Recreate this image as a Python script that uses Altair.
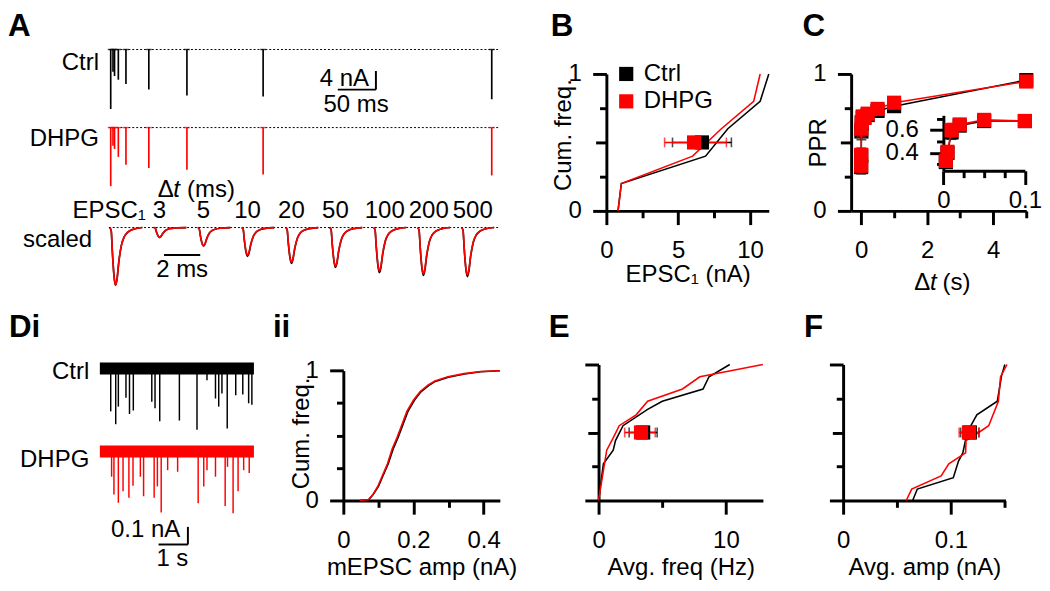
import altair as alt
import pandas as pd

FONT = "Liberation Sans"
FS = 24.5
CONDS = ["Ctrl", "DHPG"]
COLORS = ["#000000", "#ff0000"]
CSCALE = alt.Scale(domain=CONDS, range=COLORS)

# ---------------- A: paired-pulse EPSC traces ----------------
pulse_ms = [0, 3, 5, 10, 20, 50, 100, 200, 500]
epsc_ctrl_nA = [12.8, 4.8, 5.7, 6.5, 7.4, 8.6, 9.9, 10.1, 10.7]
epsc_dhpg_nA = [12.6, 3.9, 4.6, 6.3, 8.0, 8.7, 9.1, 10.1, 10.3]
dhpg_trace_offset_nA = -16.8

# scaled EPSC waveforms (EPSC1, then EPSC2 at each interval)
scaled_labels = ["EPSC\u2081", "3", "5", "10", "20", "50", "100", "200", "500"]
scaled_amp_ctrl = [1.00, 0.17, 0.32, 0.50, 0.62, 0.69, 0.78, 0.83, 0.85]
scaled_amp_dhpg = [1.00, 0.17, 0.32, 0.48, 0.60, 0.67, 0.75, 0.80, 0.82]
epsc_shape_ms = [0.0, 0.08, 0.15, 0.24, 0.32, 0.40, 0.50, 0.65, 0.80, 1.00, 1.30, 1.80]
epsc_shape = [0.0, 0.05, 0.45, 0.85, 1.00, 0.90, 0.60, 0.30, 0.16, 0.08, 0.03, 0.0]
segment_step_ms = 2.43

# ---------------- B: EPSC1 cumulative ----------------
b_ctrl_x = [0.81, 1.04, 6.9, 8.45, 10.7, 11.3]
b_ctrl_y = [0.0, 0.2, 0.4, 0.6, 0.8, 1.0]
b_dhpg_x = [0.81, 1.04, 6.0, 8.0, 10.25, 10.7]
b_dhpg_y = [0.0, 0.2, 0.4, 0.6, 0.8, 1.0]
b_mean = [6.65, 6.1]
b_lo = [4.6, 4.05]
b_hi = [8.7, 8.35]

# ---------------- C: PPR ----------------
c_dt_s = [0.003, 0.005, 0.01, 0.02, 0.05, 0.1, 0.2, 0.5, 1.0, 5.0]
c_ctrl = [0.32, 0.40, 0.58, 0.64, 0.68, 0.68, 0.70, 0.73, 0.765, 0.955]
c_dhpg = [0.33, 0.41, 0.60, 0.65, 0.69, 0.68, 0.71, 0.745, 0.79, 0.945]
c_ctrl_sem = [0.05, 0.05, 0.06, 0.03, 0.02, 0.02, 0.02, 0.02, 0.02, 0.015]
c_dhpg_sem = [0.05, 0.05, 0.06, 0.03, 0.02, 0.02, 0.02, 0.02, 0.02, 0.015]

# ---------------- Di: mEPSC traces ----------------
mini_ctrl_s = [0.40, 0.57, 0.66, 0.92, 1.04, 1.17, 1.80, 1.91, 2.07, 2.74, 3.34,
               3.68, 3.97, 4.08, 4.19, 4.37, 4.66, 4.90, 5.10, 5.21]
mini_ctrl_nA = [0.244, 0.317, 0.217, 0.167, 0.259, 0.239, 0.189, 0.226, 0.30, 0.296,
                0.348, 0.067, 0.171, 0.217, 0.143, 0.341, 0.152, 0.148, 0.198, 0.207]
mini_dhpg_s = [0.43, 0.51, 0.66, 0.82, 1.02, 1.16, 1.41, 1.52, 1.88, 1.99, 2.12, 2.34,
               2.68, 3.38, 3.57, 3.68, 3.97, 4.30, 4.38, 4.57, 4.74, 4.93, 5.12]
mini_dhpg_nA = [0.143, 0.244, 0.291, 0.226, 0.263, 0.194, 0.143, 0.254, 0.263, 0.198,
                0.346, 0.106, 0.115, 0.294, 0.198, 0.106, 0.143, 0.309, 0.087, 0.35,
                0.226, 0.106, 0.122]
dhpg_mini_offset_nA = -0.472
noise_half_nA = 0.034
trace_span_s = [0.03, 5.28]

# ---------------- ii: mEPSC amplitude cumulative ----------------
ii_ctrl_x = [0.047, 0.073, 0.085, 0.100, 0.114, 0.128, 0.142, 0.156, 0.170, 0.184, 0.203,
             0.221, 0.244, 0.262, 0.299, 0.345, 0.391, 0.446]
ii_ctrl_y = [0.0, 0.007, 0.045, 0.108, 0.196, 0.284, 0.397, 0.485, 0.585, 0.686, 0.774,
             0.837, 0.887, 0.917, 0.950, 0.975, 0.992, 1.0]
ii_dhpg_x = [0.047, 0.072, 0.084, 0.098, 0.112, 0.126, 0.139, 0.153, 0.167, 0.181, 0.200,
             0.219, 0.242, 0.261, 0.298, 0.344, 0.391, 0.446]
ii_dhpg_y = [0.0, 0.007, 0.045, 0.108, 0.196, 0.284, 0.397, 0.485, 0.585, 0.686, 0.774,
             0.840, 0.890, 0.920, 0.953, 0.977, 0.993, 1.0]

# ---------------- E: average frequency cumulative ----------------
e_ctrl_x = [0.0, 0.38, 1.15, 1.33, 1.92, 3.85, 5.0, 8.2, 8.67, 10.3]
e_ctrl_y = [0.0, 0.27, 0.37, 0.44, 0.55, 0.67, 0.73, 0.82, 0.91, 1.0]
e_dhpg_x = [0.0, 0.64, 1.15, 1.62, 2.95, 3.85, 6.59, 7.95, 12.9]
e_dhpg_y = [0.0, 0.37, 0.46, 0.55, 0.63, 0.73, 0.82, 0.91, 1.0]
e_mean = [3.5, 3.33]
e_lo = [2.4, 2.05]
e_hi = [4.6, 4.45]

# ---------------- F: average amplitude cumulative ----------------
f_ctrl_x = [0.0645, 0.0688, 0.1022, 0.107, 0.111, 0.115, 0.124, 0.143, 0.147, 0.150]
f_ctrl_y = [0.0, 0.084, 0.168, 0.29, 0.35, 0.5, 0.63, 0.73, 0.92, 1.0]
f_dhpg_x = [0.0585, 0.0636, 0.0909, 0.098, 0.1136, 0.114, 0.1257, 0.135, 0.144, 0.146, 0.152]
f_dhpg_y = [0.0, 0.084, 0.18, 0.27, 0.35, 0.44, 0.5, 0.55, 0.73, 0.91, 1.0]
f_mean = [0.1175, 0.1167]
f_lo = [0.109, 0.1076]
f_hi = [0.126, 0.1258]

# legend key placement for B (data units of panel B)
b_key_x = [1.38, 1.38]
b_key_y = [1.0, 0.8]
b_key_text_x = 2.6


# ================= helpers =================
def two(xc, yc, xd, yd):
    return pd.DataFrame({
        "x": list(xc) + list(xd),
        "y": list(yc) + list(yd),
        "cond": ["Ctrl"] * len(xc) + ["DHPG"] * len(xd),
    })


XPAD, YPAD = 15, 11.5


def ax(values, major, mid=(), labeled=None, **kw):
    if labeled is None:
        labeled = major
    maj = "[" + ",".join(str(v) for v in major) + "]"
    lab = "[" + ",".join(str(v) for v in labeled) + "]"
    conds = [{"test": f"indexof({maj}, datum.value) >= 0", "value": 14}]
    if mid:
        md = "[" + ",".join(str(v) for v in mid) + "]"
        conds.append({"test": f"indexof({md}, datum.value) >= 0", "value": 11})
    return alt.Axis(values=list(values),
                    labelExpr=f"indexof({lab}, datum.value) >= 0 ? format(datum.value, '~g') : ''",
                    tickSize={"condition": conds, "value": 7}, **kw)


def panel_title(text, dx, offset):
    return alt.TitleParams(text=text, anchor="start", frame="group", dx=dx, offset=offset,
                           fontSize=32, fontWeight="bold", font=FONT, color="black")


def color(legend=None):
    return alt.Color("cond:N", scale=CSCALE, legend=legend)


def lin(domain, rng=None):
    if rng is None:
        return alt.Scale(domain=domain, nice=False, zero=False)
    return alt.Scale(domain=domain, range=rng, nice=False, zero=False)


def txt(df, xs, ys, align="center", xaxis=None, yaxis=None, **kw):
    return alt.Chart(df).mark_text(align=align, baseline="middle", font=FONT, fontSize=FS,
                                   color="black", **kw).encode(
        x=alt.X("t:Q", scale=xs, axis=xaxis), y=alt.Y("y:Q", scale=ys, axis=yaxis), text="txt:N")


X = lambda f, s: alt.X(f, scale=s, axis=None)
Y = lambda f, s: alt.Y(f, scale=s, axis=None)

# ================= Panel A =================
A_W, A_H = 399, 221
xA = lin([0, 500], [2, 2 + 500 * 0.779])
yA = lin([-10, 0], [22.5, -25])
nP = len(pulse_ms)
a_spk = pd.DataFrame({
    "cond": ["Ctrl"] * nP + ["DHPG"] * nP,
    "t": pulse_ms + pulse_ms,
    "base": [0.0] * nP + [dhpg_trace_offset_nA] * nP,
    "tip": [-a for a in epsc_ctrl_nA] + [dhpg_trace_offset_nA - a for a in epsc_dhpg_nA],
})
a_base = pd.DataFrame({"base": [0.0, dhpg_trace_offset_nA], "t0": [-2.5, -2.5], "t1": [509, 509]})
a_bar = pd.DataFrame({"x": [348, 298], "x2": [348, 348], "y": [-4.63, -8.63], "y2": [-8.63, -8.63]})
a_lab_r = pd.DataFrame({"t": [-15.4, -15.4, 339], "y": [-2.95, dhpg_trace_offset_nA - 2.55, -6.3],
                        "txt": ["Ctrl", "DHPG", "4 nA"]})
a_lab_c = pd.DataFrame({"t": [322], "y": [-12.0], "txt": ["50 ms"]})

top = alt.layer(
    alt.Chart(a_base).mark_rule(color="black", strokeWidth=1, strokeDash=[2, 2]).encode(
        x=X("t0:Q", xA), x2="t1:Q", y=Y("base:Q", yA)),
    alt.Chart(a_spk).mark_rule(strokeWidth=1.7).encode(
        x=X("t:Q", xA), y=Y("base:Q", yA), y2="tip:Q", color=color()),
    alt.Chart(a_spk).mark_tick(orient="horizontal", size=6, thickness=1.5).encode(
        x=X("t:Q", xA), y=Y("base:Q", yA), color=color()),
    alt.Chart(a_bar).mark_rule(color="black", strokeWidth=2).encode(
        x=X("x:Q", xA), x2="x2:Q", y=Y("y:Q", yA), y2="y2:Q"),
    txt(a_lab_r, xA, yA, "right"),
    txt(a_lab_c, xA, yA, "center"),
)

xS = lin([0, 10], [1, 186])
yS = lin([-1, 0], [216, 157])
rows = []
for cond, amps in (("Ctrl", scaled_amp_ctrl), ("DHPG", scaled_amp_dhpg)):
    for k, a in enumerate(amps):
        for t, v in zip(epsc_shape_ms, epsc_shape):
            rows.append({"cond": cond, "seg": k, "t": k * segment_step_ms + t, "i": -a * v})
s_df = pd.DataFrame(rows)
s_lab = pd.DataFrame({"t": [k * segment_step_ms + 0.32 for k in range(1, len(scaled_labels))],
                      "y": [0.29] * (len(scaled_labels) - 1), "txt": scaled_labels[1:]})
s_lab["w"] = s_lab.txt.str.len()
s_lab0 = pd.DataFrame({"t": [2.0], "y": [0.29], "txt": [scaled_labels[0]]})
s_dt = pd.DataFrame({"t": [2.65], "y": [0.64], "txt": [""]})
s_lab_sc = pd.DataFrame({"t": [-0.97], "y": [-0.22], "txt": ["scaled"]})
s_bar = pd.DataFrame({"x": [3.0], "x2": [5.0], "y": [-0.475]})
s_bar_t = pd.DataFrame({"t": [4.0], "y": [-0.73], "txt": ["2 ms"]})
s_base = pd.DataFrame({"t0": [-0.05], "t1": [21.5], "y": [0.0]})

scaled = alt.layer(
    alt.Chart(s_base).mark_rule(color="black", strokeWidth=1, strokeDash=[2, 2]).encode(
        x=X("t0:Q", xS), x2="t1:Q", y=Y("y:Q", yS)),
    alt.Chart(s_df).transform_filter("datum.cond == 'Ctrl'").mark_line(strokeWidth=1.7, interpolate="monotone").encode(
        x=X("t:Q", xS), y=Y("i:Q", yS), detail="seg:N", color=color()),
    alt.Chart(s_df).transform_filter("datum.cond == 'DHPG'").mark_line(strokeWidth=1.7, interpolate="monotone").encode(
        x=X("t:Q", xS), y=Y("i:Q", yS), detail="seg:N", color=color()),
    txt(s_lab[s_lab.w < 3], xS, yS, "center"),
    txt(s_lab[s_lab.w >= 3], xS, yS, "center", dx=5.5),
    txt(s_lab0, xS, yS, "right"),
    txt(s_dt.assign(txt="\u0394"), xS, yS, "left"),
    txt(s_dt.assign(txt="t"), xS, yS, "left", dx=16, fontStyle="italic"),
    txt(s_dt.assign(txt="(ms)"), xS, yS, "left", dx=30),
    txt(s_lab_sc, xS, yS, "right"),
    alt.Chart(s_bar).mark_rule(color="black", strokeWidth=2).encode(
        x=X("x:Q", xS), x2="x2:Q", y=Y("y:Q", yS)),
    txt(s_bar_t, xS, yS, "center"),
)

panelA = alt.layer(top, scaled).resolve_scale(x="independent", y="independent").properties(
    width=A_W, height=A_H, title=panel_title("A", -103, 5.75))


# ================= cumulative panel builder =================
def cum_panel(df, xs, ys, xaxis, yaxis, W, H, title, means=None, legend=False):
    xe = alt.X("x:Q", scale=xs, axis=xaxis)
    ye = alt.Y("y:Q", scale=ys, axis=yaxis)
    layers = [alt.Chart(df).mark_line(strokeWidth=1.6).encode(x=xe, y=ye, color=color())]
    if means is not None:
        m, lo, hi = means
        mdf = pd.DataFrame({"cond": CONDS, "m": m, "lo": lo, "hi": hi, "y": [0.5, 0.5]})
        for cond in CONDS:
            sub = mdf[mdf.cond == cond]
            layers.append(alt.Chart(sub).mark_rule(strokeWidth=1.6).encode(
                x=alt.X("lo:Q", scale=xs, axis=xaxis), x2="hi:Q", y=ye, color=color()))
            for f in ("lo", "hi"):
                layers.append(alt.Chart(sub).mark_tick(orient="vertical", size=10, thickness=1.6).encode(
                    x=alt.X(f + ":Q", scale=xs, axis=xaxis), y=ye, color=color()))
        layers.append(alt.Chart(mdf).mark_square(size=210, opacity=1).encode(
            x=alt.X("m:Q", scale=xs, axis=xaxis), y=ye, color=color()))
    if legend:
        kdf = pd.DataFrame({"cond": CONDS, "x": b_key_x, "y": b_key_y})
        layers.append(alt.Chart(kdf).mark_square(size=210, opacity=1).encode(
            x=xe, y=ye, color=color()))
        tdf = pd.DataFrame({"t": [b_key_text_x] * 2, "y": b_key_y, "txt": CONDS})
        layers.append(txt(tdf, xs, ys, "left", xaxis, yaxis))
    return alt.layer(*layers).properties(width=W, height=H, title=title)


def ycum(title=None, tx=None, ty=None, labeled=None):
    kw = dict(title=title, labelPadding=YPAD)
    if title:
        kw.update(titleX=tx, titleY=ty)
    return ax([0, 0.25, 0.5, 0.75, 1], [0, 1], mid=[0.5], labeled=labeled, **kw)


# ---- B ----
panelB = cum_panel(two(b_ctrl_x, b_ctrl_y, b_dhpg_x, b_dhpg_y),
                   lin([0, 11.3]), lin([0, 1]),
                   ax([0, 2.5, 5, 7.5, 10], [0, 5, 10], title="EPSC\u2081 (nA)", titleY=53, labelPadding=XPAD),
                   ycum("Cum. freq.", -31.7, 62), 166, 140, panel_title("B", -57, 19.25),
                   means=(b_mean, b_lo, b_hi), legend=True)

# ---- C ----
c_df = pd.DataFrame({
    "x": c_dt_s + c_dt_s,
    "y": c_ctrl + c_dhpg,
    "lo": [v - s for v, s in zip(c_ctrl, c_ctrl_sem)] + [v - s for v, s in zip(c_dhpg, c_dhpg_sem)],
    "hi": [v + s for v, s in zip(c_ctrl, c_ctrl_sem)] + [v + s for v, s in zip(c_dhpg, c_dhpg_sem)],
    "cond": ["Ctrl"] * len(c_dt_s) + ["DHPG"] * len(c_dt_s),
})


def ppr_layers(df, xs, ys, xaxis, yaxis):
    xe = alt.X("x:Q", scale=xs, axis=xaxis)
    ye = alt.Y("y:Q", scale=ys, axis=yaxis)
    L = []
    for cond in CONDS:
        sub = df[df.cond == cond]
        L.append(alt.Chart(sub).mark_line(strokeWidth=1.6).encode(x=xe, y=ye, color=color()))
        L.append(alt.Chart(sub).mark_rule(strokeWidth=1.6).encode(
            x=xe, y=alt.Y("lo:Q", scale=ys, axis=yaxis), y2="hi:Q", color=color()))
        for f in ("lo", "hi"):
            L.append(alt.Chart(sub).mark_tick(orient="horizontal", size=10, thickness=1.6).encode(
                x=xe, y=alt.Y(f + ":Q", scale=ys, axis=yaxis), color=color()))
        L.append(alt.Chart(sub).mark_square(size=210, opacity=1).encode(x=xe, y=ye, color=color()))
    return L


xC = lin([-0.3, 5.0])
yC = lin([0, 1])
cxa = ax([0, 1, 2, 3, 4, 5], [0, 2, 4], title=None, labelPadding=XPAD)
cya = ycum("PPR", -21.7, 70)
c_xt = pd.DataFrame({"t": [1.61], "y": [-0.525]})
c_main = alt.layer(*ppr_layers(c_df, xC, yC, cxa, cya),
                   txt(c_xt.assign(txt="\u0394"), xC, yC, "left", cxa, cya),
                   txt(c_xt.assign(txt="t"), xC, yC, "left", cxa, cya, dx=16, fontStyle="italic"),
                   txt(c_xt.assign(txt="(s)"), xC, yC, "left", cxa, cya, dx=29))
c_in = alt.layer(*ppr_layers(c_df[c_df.x <= 0.1].reset_index(drop=True),
                             lin([0, 0.1], [94.3, 177.6]), lin([0.243, 0.73], [99, 42.3]),
                             ax([0, 0.025, 0.05, 0.075, 0.1], [0, 0.1], orient="bottom", offset=-41,
                                title=None, labelPadding=5),
                             ax([0.3, 0.4, 0.5, 0.6, 0.7], [0.4, 0.6], orient="left", offset=-94.3,
                                title=None, labelPadding=YPAD)))
panelC = alt.layer(c_main, c_in).resolve_scale(x="independent", y="independent").resolve_axis(
    x="independent", y="independent").properties(width=179, height=140, title=panel_title("C", -49.7, 19.25))

# ================= Di =================
xD = lin([0, 5], [-10, 140])
yD = lin([-1, 0], [184, 4])
d_spk = pd.DataFrame({
    "cond": ["Ctrl"] * len(mini_ctrl_s) + ["DHPG"] * len(mini_dhpg_s),
    "t": mini_ctrl_s + mini_dhpg_s,
    "base": [0.0] * len(mini_ctrl_s) + [dhpg_mini_offset_nA] * len(mini_dhpg_s),
    "tip": [-a for a in mini_ctrl_nA] + [dhpg_mini_offset_nA - a for a in mini_dhpg_nA],
})
d_band = pd.DataFrame({"cond": CONDS, "t0": [trace_span_s[0]] * 2, "t1": [trace_span_s[1]] * 2,
                       "lo": [-noise_half_nA, dhpg_mini_offset_nA - noise_half_nA],
                       "hi": [noise_half_nA, dhpg_mini_offset_nA + noise_half_nA]})
d_bar = pd.DataFrame({"x": [3.03, 2.03], "x2": [3.03, 3.03], "y": [-0.9, -1.0], "y2": [-1.0, -1.0]})
d_lab_r = pd.DataFrame({"t": [-0.33, -0.33, 2.77], "y": [-0.022, -0.522, -0.92],
                        "txt": ["Ctrl", "DHPG", "0.1 nA"]})
d_lab_c = pd.DataFrame({"t": [2.5], "y": [-1.083], "txt": ["1 s"]})
panelD = alt.layer(
    alt.Chart(d_band).mark_rect().encode(x=X("t0:Q", xD), x2="t1:Q", y=Y("lo:Q", yD), y2="hi:Q", color=color()),
    alt.Chart(d_spk).mark_rule(strokeWidth=1.5).encode(
        x=X("t:Q", xD), y=Y("base:Q", yD), y2="tip:Q", color=color()),
    alt.Chart(d_bar).mark_rule(color="black", strokeWidth=2).encode(
        x=X("x:Q", xD), x2="x2:Q", y=Y("y:Q", yD), y2="y2:Q"),
    txt(d_lab_r, xD, yD, "right"),
    txt(d_lab_c, xD, yD, "center"),
).properties(width=149, height=213, title=panel_title("Di", -102, 16.25))

# ================= ii, E, F =================
panelii = cum_panel(two(ii_ctrl_x, ii_ctrl_y, ii_dhpg_x, ii_dhpg_y),
                    lin([0, 0.446]), lin([0, 1], [139, 6.3]),
                    ax([0, 0.1, 0.2, 0.3, 0.4], [0, 0.2, 0.4], title="mEPSC amp (nA)", titleY=57,
                       labelPadding=XPAD),
                    ax([0, 0.25, 0.5, 0.75, 1], [0, 1], title="Cum. freq.", titleX=-31, titleY=70,
                       labelPadding=YPAD),
                    160, 139, panel_title("ii", -72, 14.5))
panelE = cum_panel(two(e_ctrl_x, e_ctrl_y, e_dhpg_x, e_dhpg_y),
                   lin([0, 12.9]), lin([0, 1]),
                   ax([0, 5, 10], [0, 10], title="Avg. freq (Hz)", titleY=57, labelPadding=XPAD),
                   ycum(labeled=[]),
                   168, 139, panel_title("E", -51, 8.25), means=(e_mean, e_lo, e_hi))
panelF = cum_panel(two(f_ctrl_x, f_ctrl_y, f_dhpg_x, f_dhpg_y),
                   lin([0, 0.1506]), lin([0, 1]),
                   ax([0, 0.05, 0.1, 0.15], [0, 0.1], title="Avg. amp (nA)", titleY=57, labelPadding=XPAD),
                   ycum(labeled=[]),
                   166, 139, panel_title("F", -40, 8.25), means=(f_mean, f_lo, f_hi))

row1 = alt.hconcat(panelA, alt.hconcat(panelB, panelC, spacing=30.2), spacing=51.7)
row2 = alt.hconcat(alt.hconcat(panelD, panelii, spacing=18.8),
                   alt.hconcat(panelE, panelF, spacing=38), spacing=31.7)

chart = alt.vconcat(row1, row2, spacing=17).properties(
    padding={"left": 0, "top": -5, "right": 0, "bottom": 0}
).configure_view(strokeWidth=0).configure_axis(
    domainColor="black", domainWidth=3, tickColor="black", tickWidth=3, grid=False,
    labelFont=FONT, labelFontSize=FS, labelColor="black", labelFlush=False, labelOverlap=False,
    titleFont=FONT, titleFontSize=FS, titleFontWeight="normal", titleColor="black",
).configure_text(font=FONT)

chart.save("out.html", embed_options={"renderer": "svg", "actions": False})
